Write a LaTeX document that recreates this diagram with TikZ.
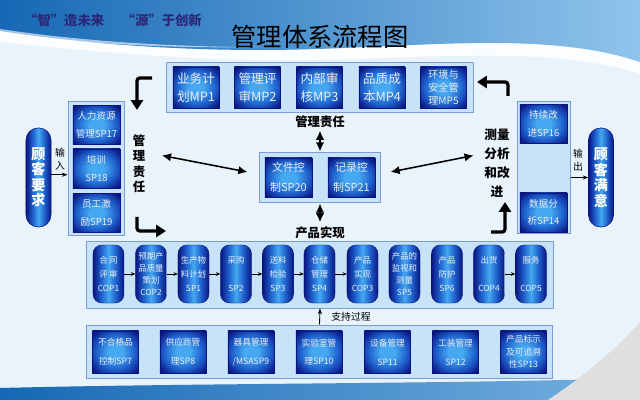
\documentclass[tikz,border=0pt]{standalone}
\usepackage{fontspec}
\setmainfont{Noto Sans CJK SC}
\usetikzlibrary{arrows.meta,calc}
\definecolor{bodybg}{HTML}{E8F3FB}
\definecolor{banL}{HTML}{1668B4}
\definecolor{banR}{HTML}{8FC4EC}
\definecolor{panelfill}{HTML}{C6E3F7}
\definecolor{paneldraw}{HTML}{7F9CD2}
\definecolor{boxdark}{HTML}{0A1580}
\definecolor{boxmid}{HTML}{1E60CC}
\definecolor{boxlight}{HTML}{45A8F0}
\definecolor{boxtext}{HTML}{EDEDF3}
\definecolor{slogan}{HTML}{2C2878}
\pgfdeclareradialshading{boxrad}{\pgfpoint{0bp}{0bp}}{color(0bp)=(boxlight); color(8bp)=(boxlight); color(21bp)=(boxmid); color(33bp)=(boxdark); color(50bp)=(boxdark)}
\pgfdeclarehorizontalshading{caph}{100bp}{color(0bp)=(boxdark); color(25bp)=(boxdark); color(38bp)=(boxmid); color(50bp)=(boxlight); color(62bp)=(boxmid); color(75bp)=(boxdark); color(100bp)=(boxdark)}
\begin{document}
\begin{tikzpicture}[x=0.025cm,y=-0.025cm,
 panel/.style={draw=paneldraw, line width=0.7pt, fill=panelfill, inner sep=0pt},
 sqbox/.style={shading=boxrad, draw=boxdark, line width=0.3pt, text=boxtext, align=center, inner sep=0pt},
 mpbox/.style={sqbox, minimum width=1.15cm, minimum height=1.025cm, font=\fontsize{9}{12.8}\selectfont},
 sidebox/.style={sqbox, minimum width=1.175cm, minimum height=0.975cm, font=\fontsize{6.8}{12.5}\selectfont},
 midbox/.style={sqbox, minimum width=1.175cm, minimum height=0.975cm, font=\fontsize{7.8}{14}\selectfont},
 capbox/.style={shading=caph, rounded corners=0.22cm, draw=boxdark, line width=0.3pt, text=boxtext, align=center, inner sep=0pt, minimum width=0.775cm, minimum height=1.45cm, font=\fontsize{6}{10.3}\selectfont},
 supbox/.style={sqbox, minimum width=1.15cm, minimum height=1.05cm, font=\fontsize{6.2}{13.5}\selectfont},
 custcap/.style={shading=caph, rounded corners=0.3cm, draw=boxdark, text=white, align=center, inner sep=0pt, minimum width=0.625cm, minimum height=2.475cm, font=\bfseries\fontsize{10}{11}\selectfont},
 lbl/.style={font=\bfseries\fontsize{8.8}{11}\selectfont, text=black, inner sep=1pt, align=center},
 bent/.style={line width=2.3pt, rounded corners=2pt, -{Triangle[length=7pt,width=8.5pt]}},
 dbl/.style={line width=1.1pt, {Latex[length=6.5pt,width=6pt]}-{Latex[length=6.5pt,width=6pt]}},
 flow/.style={line width=0.5pt, -{Stealth[length=3pt,width=2.6pt]}},
 io/.style={line width=0.6pt, -{Stealth[length=4pt,width=3pt]}}
]
\useasboundingbox (0,0) rectangle (640,400);
% background
\fill[bodybg] (0,0) rectangle (640,400);
\fill[white,opacity=0.85] (0,31) .. controls (60,40) and (150,50) .. (260,50) .. controls (400,50) and (540,28) .. (640,62) -- (640,74) .. controls (540,42) and (400,62) .. (260,60) .. controls (150,58) and (60,48) .. (0,42) -- cycle;
\shade[left color=banL, right color=banR] (0,0) -- (640,0) -- (640,62) .. controls (540,28) and (400,50) .. (260,50) .. controls (150,50) and (60,40) .. (0,31) -- cycle;
\fill[white,opacity=0.6] (0,29) .. controls (60,38) and (150,47) .. (260,47) .. controls (150,49) and (60,41) .. (0,33) -- cycle;
\shade[left color=banL, right color=banR!80!banL] (0,388) .. controls (200,383) and (450,384) .. (640,378) -- (640,400) -- (0,400) -- cycle;
\fill[gray!25] (548,400) .. controls (590,372) and (620,345) .. (640,322) -- (640,400) -- cycle;
% title and slogan
\node[font=\fontsize{18}{20}\selectfont, text=black] (title) at (320,37) {管理体系流程图};
\node[font=\bfseries\fontsize{9.5}{11}\selectfont, text=slogan] (slogan) at (113,20) {“智”造未来\hspace{1.3em}“源”于创新};
% MP panel
\node[panel, minimum width=7.65cm, minimum height=1.225cm] (mppanel) at (320,87.5) {};
\node[mpbox] (mp1) at (196,87.5) {业务计\\划MP1};
\node[mpbox] (mp2) at (257.5,87.5) {管理评\\审MP2};
\node[mpbox] (mp3) at (319.5,87.5) {内部审\\核MP3};
\node[mpbox] (mp4) at (382,87.5) {品质成\\本MP4};
\node[mpbox, font=\fontsize{7.2}{9.5}\selectfont] (mp5) at (443.5,87.5) {环境与\\安全管\\理MP5};
\node[lbl] (mrlabel) at (320,122) {管理责任};
% left panel
\node[panel, minimum width=1.4cm, minimum height=3.325cm] (lpanel) at (96,168.5) {};
\node[sidebox] (sp17) at (96.5,125) {人力资源\\管理SP17};
\node[sidebox] (sp18) at (96.5,168.5) {培训\\SP18};
\node[sidebox] (sp19) at (96.5,213) {员工激\\励SP19};
% right panel
\node[panel, minimum width=1.325cm, minimum height=3.275cm] (rpanel) at (543.5,167.5) {};
\node[sidebox] (sp16) at (543.5,124) {持续改\\进SP16};
\node[sidebox] (sp14) at (543.5,212.5) {数据分\\析SP14};
% customers
\node[custcap] (cust1) at (38.5,177.5) {顾\\客\\要\\求};
\node[custcap] (cust2) at (601,177.5) {顾\\客\\满\\意};
\node[font=\fontsize{7}{9.2}\selectfont, align=center] (inlbl) at (60,159) {输\\入};
\node[font=\fontsize{7}{9.2}\selectfont, align=center] (outlbl) at (578,160) {输\\出};
\draw[io] ([yshift=2pt]cust1.east) -- ([yshift=2pt]cust1.east -| lpanel.west);
\draw[io] (rpanel.east |- cust2.west) -- (cust2.west);
% side labels
\node[lbl, font=\bfseries\fontsize{8.8}{11}\selectfont] (lmr) at (139,163.5) {管\\理\\责\\任};
\node[lbl, font=\bfseries\fontsize{9}{13.5}\selectfont] (meas) at (497,163.5) {测量\\分析\\和改\\进};
% center panel
\node[panel, minimum width=3.0cm, minimum height=1.225cm] (cpanel) at (320,177.5) {};
\node[midbox] (sp20) at (288.5,177.5) {文件控\\制SP20};
\node[midbox] (sp21) at (351.5,177.5) {记录控\\制SP21};
\node[lbl] (prlabel) at (320,233) {产品实现};
\draw[dbl] ($(cpanel.west)+(-12,-5.5)$) -- ($(lmr.east)+(15,-8)$);
\draw[dbl] ($(cpanel.east)+(10,-5.5)$) -- ($(meas.west)+(-9,-8)$);
\draw[dbl] ($(mrlabel.south)+(0,1)$) -- ($(cpanel.north)+(0,-1)$);
\draw[dbl] ($(cpanel.south)+(0,1)$) -- ($(prlabel.north)+(0,-3)$);
% bent arrows
\coordinate (tla) at (152,78);
\coordinate (bla) at (137,217);
\coordinate (tra) at (508,96);
\coordinate (bra) at (491,232);
\draw[bent] (tla) -- (137,78) -- (137,110);
\draw[bent] (bla) -- (137,231) -- (166,231);
\draw[bent] (tra) -- (508,82) -- (477,82);
\draw[bent] (bra) -- (505,232) -- (505,202);
% product realisation panel
\node[panel, minimum width=11.65cm, minimum height=1.65cm] (ppanel) at (320,275) {};
\node[capbox] (cop1) at (108.5,274) {合\,同\\评\,审\\COP1};
\node[capbox, font=\fontsize{6}{8.5}\selectfont] (cop2) at (151,274) {预期产\\品质量\\策划\\COP2};
\node[capbox] (sp1) at (193.5,274) {生产物\\料计划\\SP1};
\node[capbox] (sp2) at (236,274) {采购\\~\\SP2};
\node[capbox] (sp3) at (278,274) {送料\\检验\\SP3};
\node[capbox] (sp4) at (319.5,274) {仓储\\管理\\SP4};
\node[capbox] (cop3) at (362.5,274) {产品\\实现\\COP3};
\node[capbox, font=\fontsize{6}{8.5}\selectfont] (sp5) at (404.5,274) {产品的\\监视和\\测量\\SP5};
\node[capbox] (sp6) at (447,274) {产品\\防护\\SP6};
\node[capbox] (cop4) at (489,274) {出货\\~\\COP4};
\node[capbox] (cop5) at (531,274) {服务\\~\\COP5};
\foreach \a/\b in {cop1/cop2,cop2/sp1,sp1/sp2,sp2/sp3,sp3/sp4,sp4/cop3,cop4/cop5}
  \draw[flow] (\a.east) -- (\b.west);
% support panel
\node[panel, minimum width=11.625cm, minimum height=1.325cm] (spanel) at (319.5,351.5) {};
\node[supbox] (sp7) at (115.5,352) {不合格品\\控制SP7};
\node[supbox] (sp8) at (183,352) {供应商管\\理SP8};
\node[supbox] (sp9) at (251,352) {器具管理\\/MSASP9};
\node[supbox] (sp10) at (319,352) {实验室管\\理SP10};
\node[supbox] (sp11) at (387.5,352) {设备管理\\SP11};
\node[supbox] (sp12) at (455.5,352) {工装管理\\SP12};
\node[supbox, font=\fontsize{6.2}{8.9}\selectfont] (sp13) at (523.5,352) {产品标示\\及可追溯\\性SP13};
\node[font=\fontsize{7}{9}\selectfont] (suplbl) at (351,317) {支持过程};
\draw[line width=0.6pt, -{Stealth[length=4pt,width=3pt]}] (spanel.north) -- (ppanel.south);
\end{tikzpicture}
\end{document}
